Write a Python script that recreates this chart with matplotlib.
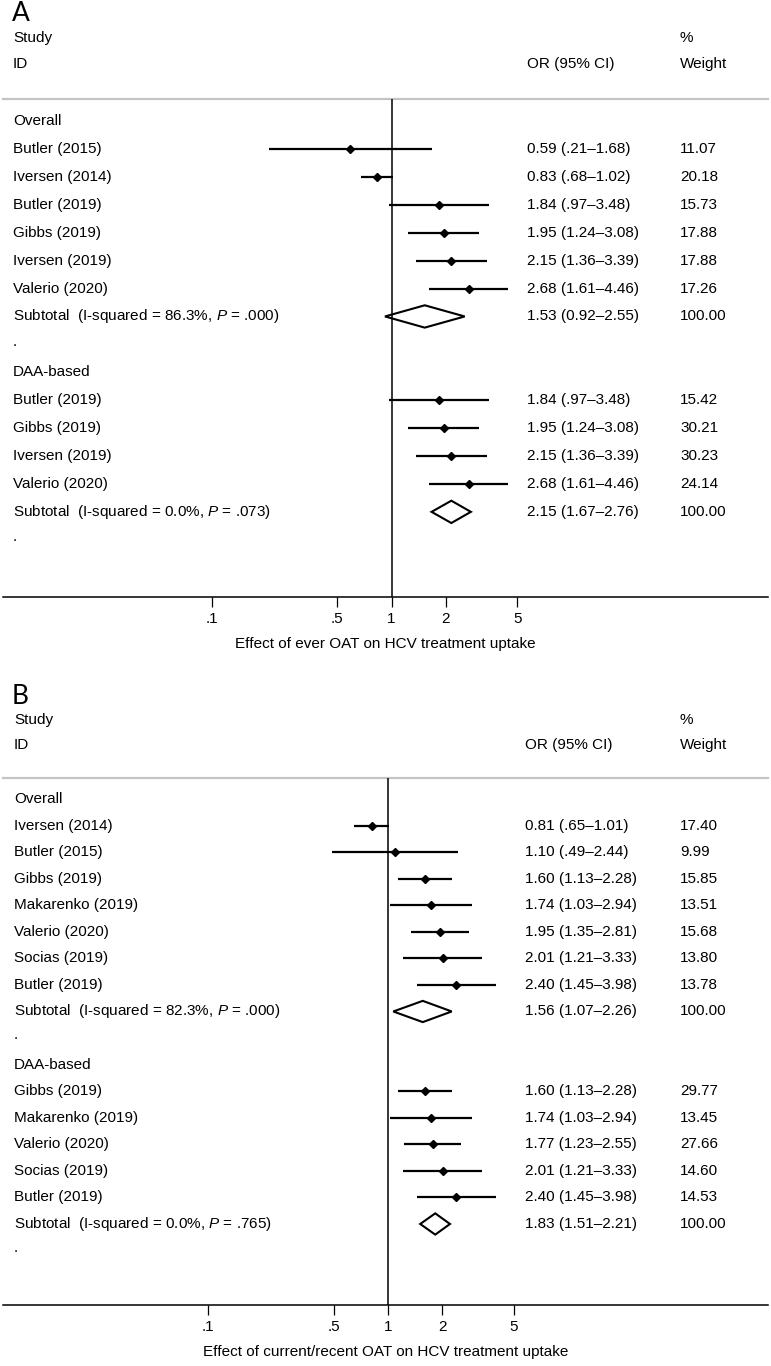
import matplotlib
matplotlib.use("Agg")
import matplotlib.pyplot as plt
from matplotlib.patches import Polygon

plt.rcParams['font.family'] = ['Liberation Sans', 'DejaVu Sans']
plt.rcParams['mathtext.fontset'] = 'custom'
plt.rcParams['mathtext.it'] = 'Liberation Sans:italic'
plt.rcParams['mathtext.rm'] = 'Liberation Sans'

# ---- panel A: ever OAT ----
a_overall_names = ["Butler (2015)", "Iversen (2014)", "Butler (2019)", "Gibbs (2019)",
                   "Iversen (2019)", "Valerio (2020)"]
a_overall_or = [0.59, 0.83, 1.84, 1.95, 2.15, 2.68]
a_overall_lo = [0.21, 0.68, 0.97, 1.24, 1.36, 1.61]
a_overall_hi = [1.68, 1.02, 3.48, 3.08, 3.39, 4.46]
a_overall_w = ["11.07", "20.18", "15.73", "17.88", "17.88", "17.26"]
a_overall_sub = (1.53, 0.92, 2.55, "86.3%", ".000")

a_daa_names = ["Butler (2019)", "Gibbs (2019)", "Iversen (2019)", "Valerio (2020)"]
a_daa_or = [1.84, 1.95, 2.15, 2.68]
a_daa_lo = [0.97, 1.24, 1.36, 1.61]
a_daa_hi = [3.48, 3.08, 3.39, 4.46]
a_daa_w = ["15.42", "30.21", "30.23", "24.14"]
a_daa_sub = (2.15, 1.67, 2.76, "0.0%", ".073")

# ---- panel B: current/recent OAT ----
b_overall_names = ["Iversen (2014)", "Butler (2015)", "Gibbs (2019)", "Makarenko (2019)",
                   "Valerio (2020)", "Socias (2019)", "Butler (2019)"]
b_overall_or = [0.81, 1.10, 1.60, 1.74, 1.95, 2.01, 2.40]
b_overall_lo = [0.65, 0.49, 1.13, 1.03, 1.35, 1.21, 1.45]
b_overall_hi = [1.01, 2.44, 2.28, 2.94, 2.81, 3.33, 3.98]
b_overall_w = ["17.40", "9.99", "15.85", "13.51", "15.68", "13.80", "13.78"]
b_overall_sub = (1.56, 1.07, 2.26, "82.3%", ".000")

b_daa_names = ["Gibbs (2019)", "Makarenko (2019)", "Valerio (2020)", "Socias (2019)",
               "Butler (2019)"]
b_daa_or = [1.60, 1.74, 1.77, 2.01, 2.40]
b_daa_lo = [1.13, 1.03, 1.23, 1.21, 1.45]
b_daa_hi = [2.28, 2.94, 2.55, 3.33, 3.98]
b_daa_w = ["29.77", "13.45", "27.66", "14.60", "14.53"]
b_daa_sub = (1.83, 1.51, 2.21, "0.0%", ".765")

tick_vals = [0.1, 0.5, 1, 2, 5]
tick_labels = [".1", ".5", "1", "2", "5"]

W, H = 771, 1366
FS = 11


def fmt_ci(v):
    s = f"{v:.2f}"
    return s[1:] if v < 1 and s.startswith("0") else s


def fmt_row(o, lo, hi, strip=True):
    if strip:
        return f"{o:.2f} ({fmt_ci(lo)}\u2013{fmt_ci(hi)})"
    return f"{o:.2f} ({lo:.2f}\u2013{hi:.2f})"


def forest(fig, top, bottom, x_one, letter, xlabel, groups, ypad_top=-0.79, col_or=527, col_w=680, col_lab=13):
    ax = fig.add_axes([3 / W, 1 - bottom / H, 765 / W, (bottom - top) / H])
    decade = 180.0
    ax.set_xscale("log")
    ax.set_xlim(10 ** ((3 - x_one) / decade), 10 ** ((768 - x_one) / decade))

    # build rows
    rows = []
    for gname, names, ors, los, his, ws, sub in groups:
        rows.append(("head", gname))
        for n, o, lo, hi, w in zip(names, ors, los, his, ws):
            rows.append(("study", n, o, lo, hi, w))
        rows.append(("sub",) + sub)
        rows.append(("dot",))
    nrows = len(rows)
    ybottom = nrows + 1.05
    ax.set_ylim(ybottom, ypad_top)

    tx = ax.get_yaxis_transform()  # x in axes coords, y in data
    def fx(px):
        return (px - 3) / 765

    for i, r in enumerate(rows):
        kind = r[0]
        if kind == "head":
            ax.text(fx(col_lab), i, r[1], transform=tx, va="center", fontsize=FS)
        elif kind == "study":
            _, n, o, lo, hi, w = r
            ax.plot([lo, hi], [i, i], color="black", lw=1.6, solid_capstyle="butt")
            ax.plot([o], [i], marker="D", color="black", markersize=3.6)
            ax.text(fx(col_lab), i, n, transform=tx, va="center", fontsize=FS)
            ax.text(fx(col_or), i, fmt_row(o, lo, hi), transform=tx, va="center", fontsize=FS)
            ax.text(fx(col_w), i, w, transform=tx, va="center", fontsize=FS)
        elif kind == "sub":
            _, o, lo, hi, isq, p = r
            h = 0.4
            ax.add_patch(Polygon([(lo, i), (o, i - h), (hi, i), (o, i + h)], closed=True,
                                 fill=False, edgecolor="black", lw=1.5))
            ax.text(fx(col_lab), i, f"Subtotal  (I-squared = {isq}, $\\mathit{{P}}$ = {p})",
                    transform=tx, va="center", fontsize=FS)
            ax.text(fx(col_or), i, fmt_row(o, lo, hi, strip=False), transform=tx, va="center", fontsize=FS)
            ax.text(fx(col_w), i, "100.00", transform=tx, va="center", fontsize=FS)
        else:
            ax.text(fx(col_lab), i - 0.1, ".", transform=tx, va="center", fontsize=FS)

    # header texts
    ax.text(fx(col_lab), ypad_top - 2.2, "Study", transform=tx, va="center", fontsize=FS, clip_on=False)
    ax.text(fx(col_lab), ypad_top - 1.25, "ID", transform=tx, va="center", fontsize=FS, clip_on=False)
    ax.text(fx(col_or), ypad_top - 1.25, "OR (95% CI)", transform=tx, va="center", fontsize=FS, clip_on=False)
    ax.text(fx(col_w), ypad_top - 2.2, "%", transform=tx, va="center", fontsize=FS, clip_on=False)
    ax.text(fx(col_w), ypad_top - 1.25, "Weight", transform=tx, va="center", fontsize=FS, clip_on=False)
    ax.text(fx(12), ypad_top - 3.05, letter, transform=tx, va="center", fontsize=19,
            family="Lato", clip_on=False)

    # header rule and null line
    ax.axhline(ypad_top, color="#c4c4c4", lw=1.6, clip_on=False)
    ax.axvline(1, color="black", lw=1.1)

    for s in ["top", "right", "left"]:
        ax.spines[s].set_visible(False)
    ax.spines["bottom"].set_linewidth(1.1)
    ax.set_yticks([])
    ax.set_xticks(tick_vals)
    ax.set_xticklabels(tick_labels, fontsize=FS)
    ax.minorticks_off()
    ax.tick_params(axis="x", length=7, width=0.9, pad=4)
    ax.set_xlabel(xlabel, fontsize=FS, labelpad=8)
    return ax


fig = plt.figure(figsize=(W / 100, H / 100), dpi=100)

forest(fig, 99, 597, 391.5, "A", "Effect of ever OAT on HCV treatment uptake",
       [("Overall", a_overall_names, a_overall_or, a_overall_lo, a_overall_hi, a_overall_w, a_overall_sub),
        ("DAA-based", a_daa_names, a_daa_or, a_daa_lo, a_daa_hi, a_daa_w, a_daa_sub)])

forest(fig, 778, 1305, 388, "B", "Effect of current/recent OAT on HCV treatment uptake",
       [("Overall", b_overall_names, b_overall_or, b_overall_lo, b_overall_hi, b_overall_w, b_overall_sub),
        ("DAA-based", b_daa_names, b_daa_or, b_daa_lo, b_daa_hi, b_daa_w, b_daa_sub)],
       col_or=525, col_lab=14)

fig.savefig("out.png", dpi=100)
